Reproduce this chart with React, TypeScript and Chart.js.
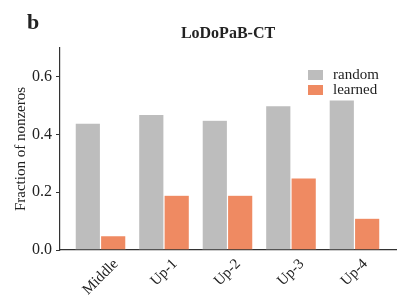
import React, { useEffect, useRef } from "react";
import { Chart, registerables } from "chart.js";
Chart.register(...registerables);

const categories = ["Middle", "Up-1", "Up-2", "Up-3", "Up-4"];
const randomVals = [0.44, 0.47, 0.45, 0.5, 0.52];
const learnedVals = [0.05, 0.19, 0.19, 0.25, 0.11];
const yTicks = [0, 0.2, 0.4, 0.6];
const seriesNames = ["random", "learned"];
const seriesColors = ["#bdbdbd", "#ef8a62"];
const titleText = "LoDoPaB-CT";
const panelLetter = "b";
const yTitle = "Fraction of nonzeros";

const FONT = "'Liberation Serif', 'Times New Roman', serif";
const TEXT = "#222222";
const AXIS = "#333333";

const overlay = {
  id: "overlay",
  afterDraw(chart: any) {
    const ctx = chart.ctx;
    const area = chart.chartArea;
    const xs = chart.scales.x;
    ctx.save();
    ctx.fillStyle = TEXT;
    ctx.font = `bold 22px ${FONT}`;
    ctx.textAlign = "left";
    ctx.textBaseline = "alphabetic";
    ctx.fillText(panelLetter, 27, 29);

    ctx.font = `bold 16px ${FONT}`;
    ctx.textAlign = "center";
    ctx.textBaseline = "middle";
    ctx.fillText(titleText, (area.left + area.right) / 2, 34);

    ctx.font = `15px ${FONT}`;
    ctx.textAlign = "left";
    seriesNames.forEach((n, i) => {
      const y = 70 + i * 15;
      ctx.fillStyle = seriesColors[i];
      ctx.fillRect(308, y, 15, 10);
      ctx.fillStyle = TEXT;
      ctx.fillText(n, 333, y + 5);
    });

    ctx.font = `15px ${FONT}`;
    categories.forEach((c, i) => {
      const px = xs.getPixelForValue(i);
      const w = ctx.measureText(c).width;
      const h = 15 * 0.7;
      const half = (w + h) / (2 * Math.SQRT2);
      ctx.save();
      ctx.translate(px, area.bottom + 8 + half);
      ctx.rotate(-Math.PI / 4);
      ctx.textAlign = "center";
      ctx.textBaseline = "middle";
      ctx.fillText(c, 0, 0);
      ctx.restore();
    });
    ctx.restore();
  },
};

export default function App() {
  const ref = useRef<HTMLCanvasElement | null>(null);
  useEffect(() => {
    if (!ref.current) return;
    const chart = new Chart(ref.current, {
      type: "bar",
      data: {
        datasets: [
          {
            label: seriesNames[0],
            data: randomVals.map((v, i) => ({ x: i, y: v })),
            backgroundColor: seriesColors[0],
            borderColor: "rgba(255,255,255,0.5)",
            borderWidth: 0.6,
          },
          {
            label: seriesNames[1],
            data: learnedVals.map((v, i) => ({ x: i, y: v })),
            backgroundColor: seriesColors[1],
            borderColor: "rgba(255,255,255,0.5)",
            borderWidth: 0.6,
          },
        ],
      },
      options: {
        animation: false,
        responsive: false,
        maintainAspectRatio: false,
        categoryPercentage: 0.8,
        barPercentage: 1,
        layout: { padding: { top: 48, right: 12, left: 0, bottom: 0 } },
        plugins: {
          legend: { display: false },
          title: { display: false },
          tooltip: { enabled: false },
        },
        scales: {
          x: {
            type: "linear",
            min: -0.638,
            max: 4.654,
            offset: false,
            ticks: { display: false },
            grid: { display: false },
            border: { display: true, color: AXIS, width: 1.2 },
            afterFit(s: any) {
              s.height = 57;
            },
          },
          y: {
            min: 0,
            max: 0.7,
            afterBuildTicks(s: any) {
              s.ticks = yTicks.map((v) => ({ value: v }));
            },
            ticks: {
              callback: (v: any) => Number(v).toFixed(1),
              font: { family: FONT, size: 16 },
              color: TEXT,
              padding: 4,
            },
            grid: {
              drawOnChartArea: false,
              drawTicks: true,
              tickLength: 4,
              color: AXIS,
            },
            border: { display: true, color: AXIS, width: 1.2 },
            title: {
              display: true,
              text: yTitle,
              font: { family: FONT, size: 15 },
              color: TEXT,
              padding: { top: 12, bottom: 0 },
            },
            afterFit(s: any) {
              s.width = 60;
            },
          },
        },
      } as any,
      plugins: [overlay],
    });
    return () => chart.destroy();
  }, []);
  return (
    <div style={{ position: "absolute", left: 0, top: 0, width: 408, height: 307, background: "#fff" }}>
      <canvas ref={ref} width={408} height={307} />
    </div>
  );
}
